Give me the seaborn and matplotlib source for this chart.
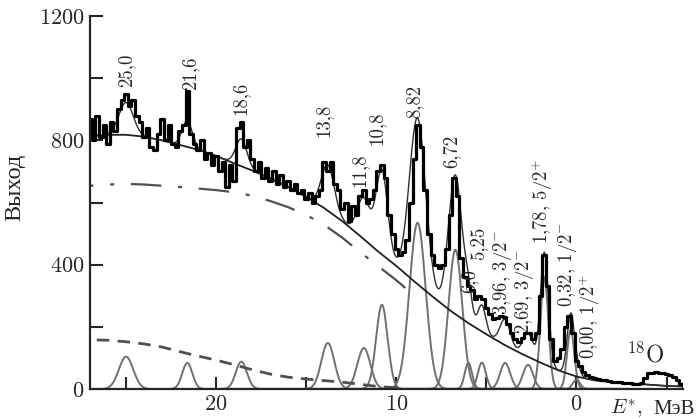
import numpy as np
import matplotlib
matplotlib.use("Agg")
import matplotlib.pyplot as plt
import seaborn as sns

sns.set_style("ticks")
plt.rcParams["font.family"] = ["cmr10", "Liberation Serif"]
plt.rcParams["mathtext.fontset"] = "cm"
plt.rcParams["axes.formatter.use_mathtext"] = True
plt.rcParams["axes.unicode_minus"] = False
plt.rcParams["lines.scale_dashes"] = False

# measured spectrum, 0.2 MeV channels from 27.0 down to -6.0 MeV
obs_e = np.round(np.arange(27.0, -6.01, -0.2), 1)
obs_counts = [
    870, 800, 880, 810, 850, 790, 860, 830, 900, 930,   # 27.0 .. 25.2
    950, 910, 930, 880, 860, 810, 840, 780, 770, 820,   # 25.0 .. 23.2
    870, 800, 850, 790, 780, 830, 850, 960, 820, 790,   # 23.0 .. 21.2
    770, 800, 740, 760, 720, 750, 700, 730, 650, 720,   # 21.0 .. 19.2
    670, 840, 860, 780, 800, 740, 700, 730, 680, 710,   # 19.0 .. 17.2
    670, 700, 660, 690, 650, 670, 640, 660, 630, 640,   # 17.0 .. 15.2
    610, 630, 600, 620, 640, 730, 700, 730, 660, 640,   # 15.0 .. 13.2
    580, 600, 540, 590, 560, 620, 640, 600, 610, 640,   # 13.0 .. 11.2
    700, 720, 680, 560, 500, 450, 430, 440, 480, 600,   # 11.0 .. 9.2
    740, 850, 780, 640, 500, 430, 400, 390, 400, 450,   # 9.0 .. 7.2
    560, 680, 620, 420, 360, 330, 320, 290, 300, 290,   # 7.0 .. 5.2
    260, 240, 225, 230, 235, 232, 210, 180, 160, 150,   # 5.0 .. 3.2
    165, 180, 180, 160, 180, 300, 430, 330, 160, 90,    # 3.0 .. 1.2
    100, 130, 200, 235, 180, 90, 75, 55, 45, 40,        # 1.0 .. -0.8
    35, 32, 28, 28, 25, 24, 22, 22, 20, 20,             # -1.0 .. -2.8
    18, 16, 15, 18, 35, 50, 52, 54, 52, 50,             # -3.0 .. -4.8
    48, 45, 40, 30, 15, 10,                             # -5.0 .. -6.0
]

# total background
bg_e = [27, 26, 25, 24, 23, 22, 21, 20, 19, 18, 17, 16, 15, 14, 13, 12, 11,
        10, 9, 8, 7, 6, 5, 4, 3, 2, 1, 0, -1, -2, -3, -4, -5, -6]
bg_counts = [814, 818, 818, 812, 800, 785, 770, 750, 726, 703, 678, 650, 618,
             582, 540, 492, 442, 396, 346, 298, 252, 212, 176, 142, 112, 85,
             60, 40, 28, 22, 18, 14, 10, 8]

# dash-dot background component
dd_e = [27, 26, 25, 24, 23, 22, 21, 20, 19, 18, 17, 16, 15, 14, 13, 12, 11, 10, 9.5]
dd_counts = [654, 658, 660, 658, 654, 650, 645, 640, 633, 622, 605, 585, 560,
             528, 487, 440, 395, 350, 325]

# dashed background component
ds_e = [27, 26, 25, 24, 23, 22, 21, 20, 19, 18, 17, 16, 15, 14, 13, 12, 11, 10]
ds_counts = [158, 157, 152, 145, 135, 120, 106, 93, 78, 62, 48, 38, 32, 27,
             22, 15, 8, 4]

# fitted peaks
peak_e = [25.0, 21.6, 18.6, 13.8, 11.8, 10.8, 8.82, 6.72, 6.0, 5.25, 3.96,
          2.69, 1.78, 0.32, 0.00]
peak_h = [104, 84, 88, 148, 132, 271, 535, 448, 84, 85, 84, 78, 360, 190, 30]
peak_w = [0.40, 0.28, 0.31, 0.36, 0.36, 0.32, 0.45, 0.38, 0.20, 0.22, 0.28,
          0.28, 0.22, 0.20, 0.20]

labels = ["25,0", "21,6", "18,6", "13,8", "11,8", "10,8", "8,82", "6,72",
          "6,0", "5,25", "3,96, $3/2^{-}$", "2,69, $3/2^{-}$",
          "1,78, $5/2^{+}$", "0,32, $1/2^{-}$", "0,00, $1/2^{+}$"]

fig = plt.figure(figsize=(6.99, 4.19), dpi=100)
ax = fig.add_axes([0.1288, 0.0716, 0.848, 0.890])

grid = np.linspace(27.0, -6.0, 1651)
fit = np.interp(grid, bg_e[::-1], bg_counts[::-1])
for c, h, w in zip(peak_e, peak_h, peak_w):
    g = h * np.exp(-0.5 * ((grid - c) / w) ** 2)
    fit = fit + g
    sns.lineplot(x=grid, y=g, ax=ax, color="#707070", lw=1.4, estimator=None)

sns.lineplot(x=ds_e, y=ds_counts, ax=ax, color="#505050", lw=2.0,
             linestyle=(0, (9, 6)), estimator=None)
sns.lineplot(x=dd_e, y=dd_counts, ax=ax, color="#505050", lw=1.6,
             linestyle=(0, (22, 12, 3, 12)), estimator=None)
sns.lineplot(x=bg_e, y=bg_counts, ax=ax, color="#202020", lw=1.3, estimator=None)
sns.lineplot(x=grid, y=fit, ax=ax, color="#303030", lw=1.0, estimator=None)
sns.lineplot(x=obs_e, y=obs_counts, ax=ax, color="black", lw=2.3,
             drawstyle="steps-mid", estimator=None)

ax.set_xlim(27.0, -5.9)
ax.set_ylim(0, 1200)
ax.set_xticks([20, 10, 0])
ax.set_xticks([25, 15, 5, -5], minor=True)
ax.set_yticks([0, 400, 800, 1200])
ax.set_yticks([200, 600, 1000], minor=True)
ax.tick_params(which="both", direction="in", length=9, width=1.5,
               labelsize=16, pad=4)
for s in ["left", "bottom"]:
    ax.spines[s].set_linewidth(1.6)
sns.despine(ax=ax)

ax.set_xlabel("")
ax.set_ylabel("Выход", fontsize=17.5, family="Liberation Serif")
ax.yaxis.set_label_coords(-0.11, 0.54)
fig.text(610 / 699, 0.012, "$E^{*}$,", fontsize=15, va="baseline")
fig.text(653 / 699, 0.012, "МэВ", fontsize=15, va="baseline",
         family="Liberation Serif")

# label anchors (energy, counts at the text's lower edge)
label_pos = [(25.0, 972), (21.45, 962), (18.67, 882), (14.07, 811),
             (12.02, 650), (11.08, 785), (8.97, 872), (6.92, 711),
             (5.92, 309), (5.47, 415), (4.12, 238), (2.90, 177),
             (1.92, 467), (0.48, 264), (-0.70, 97)]
for t, (x, y) in zip(labels, label_pos):
    ax.text(x, y, t, rotation=90, ha="center", va="bottom", fontsize=13.5)
ax.text(-3.79, 87, "$^{18}$O", ha="center", va="baseline", fontsize=17)

fig.savefig("out.png", dpi=100)
